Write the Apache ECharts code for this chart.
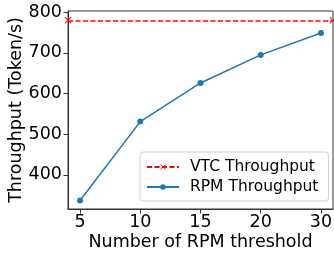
<!DOCTYPE html>
<html>
<head>
<meta charset="utf-8">
<script src="https://cdn.jsdelivr.net/npm/echarts@6/dist/echarts.min.js"></script>
<style>
html,body{margin:0;padding:0;background:#fff;}
#chart{width:334px;height:255px;}
</style>
</head>
<body>
<div id="chart"></div>
<script>
const categories = ['5', '10', '15', '20', '30'];
const rpmThroughput = [337, 531, 626, 695, 749];
const vtcThroughput = 780;
const yTicks = [400, 500, 600, 700, 800];

const xIdx = categories.map((c, i) => i);
const X_PATH = 'path://M0,1 L1,0 L5,4 L9,0 L10,1 L6,5 L10,9 L9,10 L5,6 L1,10 L0,9 L4,5 Z';
const FONT = 'DejaVu Sans';

const chart = echarts.init(document.getElementById('chart'), null, {renderer: 'canvas'});
chart.setOption({
  animation: false,
  backgroundColor: '#fff',
  grid: {left: 68, right: 1, top: 11, bottom: 46, outerBoundsMode: 'none', containLabel: false,
    show: true, borderColor: '#333', borderWidth: 1, backgroundColor: 'transparent'},
  xAxis: {
    type: 'value', min: -0.2, max: 4.2,
    name: 'Number of RPM threshold', nameLocation: 'middle', nameGap: 24, nameMoveOverlap: false,
    nameTextStyle: {fontFamily: FONT, fontSize: 17.5, color: '#000'},
    axisLine: {show: true, onZero: false, lineStyle: {color: '#333', width: 1}},
    axisTick: {show: true, length: 4.5, customValues: xIdx, lineStyle: {color: '#333'}},
    axisLabel: {customValues: xIdx, margin: 4, fontFamily: FONT, fontSize: 17.5, color: '#000',
      formatter: v => categories[Math.round(v)]},
    splitLine: {show: false}
  },
  yAxis: {
    type: 'value', min: 316, max: 803,
    name: 'Throughput (Token/s)', nameLocation: 'middle', nameGap: 43, nameMoveOverlap: false,
    nameTextStyle: {fontFamily: FONT, fontSize: 17.5, color: '#000'},
    axisLine: {show: true, onZero: false, lineStyle: {color: '#333', width: 1}},
    axisTick: {show: true, length: 4.5, customValues: yTicks, lineStyle: {color: '#333'}},
    axisLabel: {customValues: yTicks, margin: 6, fontFamily: FONT, fontSize: 17.5, color: '#000'},
    splitLine: {show: false}
  },
  legend: {
    orient: 'vertical', left: 140, top: 152,
    padding: [7, 10, 6, 6], itemGap: 4, itemWidth: 32, itemHeight: 7,
    borderColor: '#d0d0d0', borderWidth: 1, borderRadius: 3,
    backgroundColor: 'rgba(255,255,255,0.8)',
    textStyle: {fontFamily: FONT, fontSize: 15.5, color: '#000', padding: [0, 0, 0, 6]},
    data: ['VTC Throughput', 'RPM Throughput']
  },
  series: [
    {
      name: 'VTC Throughput', type: 'line', data: [],
      symbol: X_PATH, symbolSize: 7,
      itemStyle: {color: '#ff0000'},
      lineStyle: {color: '#ff0000', width: 1.5, type: [5, 2.5]},
      markLine: {
        silent: true, animation: false,
        symbol: [X_PATH, X_PATH], symbolSize: 7,
        label: {show: false},
        itemStyle: {color: '#ff0000'},
        lineStyle: {color: '#ff0000', width: 1.5, type: [5, 2.5]},
        emphasis: {disabled: true},
        data: [{yAxis: vtcThroughput}]
      }
    },
    {
      name: 'RPM Throughput', type: 'line',
      data: rpmThroughput.map((v, i) => [xIdx[i], v]),
      symbol: 'circle', symbolSize: 6, showSymbol: true,
      itemStyle: {color: '#1f77b4'},
      lineStyle: {color: '#1f77b4', width: 1.5}
    }
  ]
});
</script>
</body>
</html>
